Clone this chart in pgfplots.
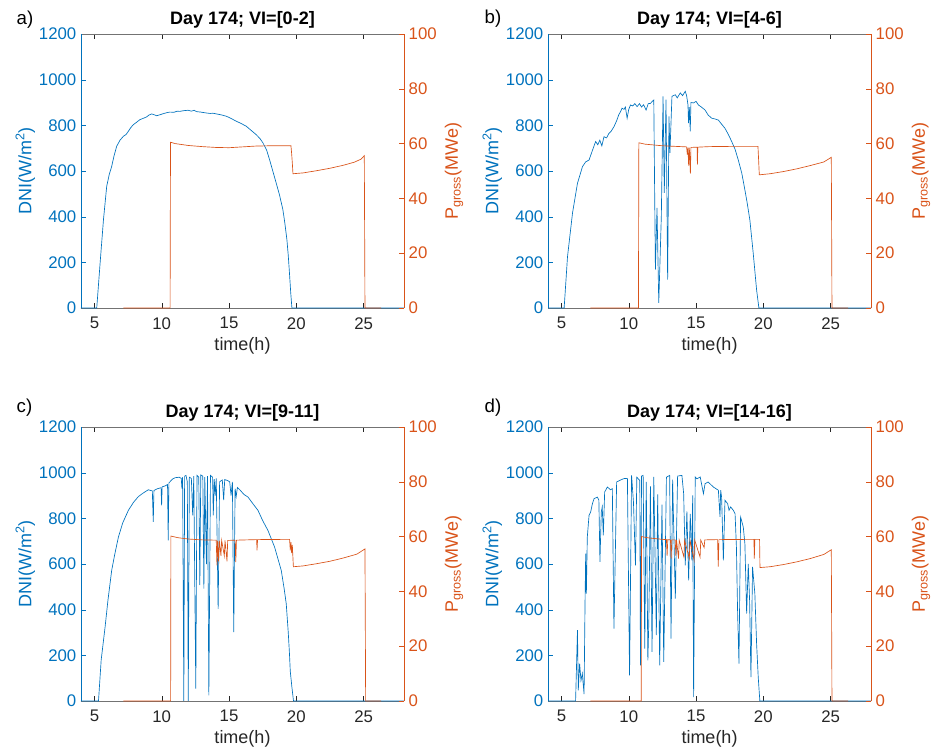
\documentclass[border=0pt]{standalone}
\usepackage{pgfplots}
\pgfplotsset{compat=1.18}
\usepackage{fontspec}
\setmainfont{Liberation Sans}

\definecolor{mblue}{rgb}{0,0.447,0.741}
\definecolor{morange}{rgb}{0.85,0.325,0.098}
\definecolor{mgray}{rgb}{0.15,0.15,0.15}

\pgfplotsset{
  base/.style={
    scale only axis, width=242.25pt, height=205.5pt,
    xmin=4, xmax=28, anchor=south west, clip=false,
    tick align=inside, major tick length=3.5pt,
    /pgf/number format/assume math mode=true,
    /pgf/number format/set thousands separator={},
    ticklabel style={font=\fontsize{12.6}{14}\selectfont},
    label style={font=\fontsize{13.5}{16}\selectfont},
    every axis plot/.append style={line width=0.5pt, mark=none},
  },
  dni/.style={base,
    ymin=0, ymax=1200, ytick={0,200,...,1200},
    xtick={5,10,15,20,25},
    axis y line*=left,
    y axis line style={mblue, line width=0.5pt},
    ytick style={mblue}, yticklabel style={mblue},
    x axis line style={black!55, line width=0.5pt},
    xtick style={mgray}, xticklabel style={mgray, yshift=-3.5pt},
    ylabel={DNI(W/m\textsuperscript{2})},
    ylabel style={mblue, at={(axis description cs:-0.172,0.5)}, anchor=center},
    xlabel={time(h)}, xlabel style={mgray, yshift=0.5pt},
    title style={font=\fontsize{13.5}{16}\selectfont\bfseries, black, yshift=-5.5pt},
  },
  pow/.style={base,
    ymin=0, ymax=100, ytick={0,20,...,100},
    axis y line*=right, axis x line=none,
    y axis line style={morange, line width=0.5pt},
    ytick style={morange}, yticklabel style={morange},
    ylabel={P\textsubscript{gross}(MWe)},
    ylabel style={morange, at={(axis description cs:1.155,0.5)}, anchor=center},
  },
}

\begin{document}
\begin{tikzpicture}
\path[use as bounding box] (0,0) rectangle (705pt,562.5pt);

% ---- a) ----
\begin{axis}[dni, at={(60.75pt,331.5pt)}, title={Day 174; VI=[0-2]}]
\addplot[mblue] coordinates {
(4,0)(5.17,0)(5.42,197)(5.67,387)(5.91,533)(6.1,585)(6.28,620)(6.45,665)(6.65,708)
(6.9,735)(7.15,752)(7.35,760)(7.52,774)(7.7,790)(7.89,803)(8.1,812)(8.38,825)(8.6,830)
(8.88,837)(9.05,845)(9.25,850)(9.45,846)(9.62,842)(9.85,846)(10.11,851)(10.35,855)
(10.6,858)(10.9,857)(11.15,862)(11.35,861)(11.6,864)(11.96,866)(12.2,862)(12.4,866)
(12.58,860)(12.9,858)(13.1,856)(13.32,854)(13.6,852)(13.8,853)(14.06,850)(14.4,846)
(14.8,840)(15.15,830)(15.54,818)(15.9,808)(16.28,796)(16.6,780)(17.02,759)(17.3,742)
(17.52,723)(17.8,690)(18.01,650)(18.25,600)(18.5,548)(18.75,495)(19.0,431)(19.15,370)
(19.3,299)(19.4,230)(19.49,153)(19.58,70)(19.67,0)(28,0)};
\end{axis}
\begin{axis}[pow, at={(60.75pt,331.5pt)}]
\addplot[morange] coordinates {
(7.15,0)(10.62,0)(10.65,60.5)(11.0,60.0)(12,59.3)(13,58.9)(14,58.6)(15,58.5)(16,58.8)
(17,59.1)(18,59.2)(19.6,59.2)(19.65,56.5)(19.7,53)(19.75,49)(20.5,49.3)(21.5,50.1)
(22.5,51)(23.5,52.1)(24.3,53.2)(24.8,54.3)(25.05,55.6)(25.1,0)(26.3,0)};
\end{axis}

% ---- b) ----
\begin{axis}[dni, at={(411pt,331.5pt)}, title={Day 174; VI=[4-6]}]
\addplot[mblue] coordinates {
(4,0)(5.2,0)(5.45,225)(5.82,415)(6.19,546)(6.56,619)(6.8,640)(7.05,648)(7.3,690)
(7.54,729)(7.7,715)(7.85,735)(8.0,710)(8.16,750)(8.35,745)(8.53,765)(8.7,775)(8.9,794)
(9.1,820)(9.25,845)(9.39,860)(9.5,875)(9.65,870)(9.75,880)(9.88,831)(10.0,870)
(10.13,889)(10.3,885)(10.45,895)(10.62,882)(10.8,895)(10.95,880)(11.1,890)(11.29,867)
(11.45,895)(11.61,896)(11.75,905)(11.86,911)(11.98,168)(12.1,438)(12.23,22)(12.42,400)
(12.55,927)(12.64,504)(12.77,912)(12.89,124)(12.99,839)(13.06,679)(13.21,927)
(13.46,934)(13.6,920)(13.83,942)(14.0,930)(14.2,949)(14.3,930)(14.4,890)(14.44,810)
(14.5,880)(14.57,774)(14.62,900)(14.81,898)(15.0,905)(15.18,889)(15.4,880)(15.67,867)
(15.9,845)(16.17,831)(16.4,828)(16.66,823)(16.9,805)(17.15,787)(17.4,760)(17.65,729)
(17.9,695)(18.14,648)(18.4,590)(18.63,517)(18.8,460)(19.0,385)(19.25,239)(19.5,79)
(19.67,0)(28,0)};
\end{axis}
\begin{axis}[pow, at={(411pt,331.5pt)}]
\addplot[morange] coordinates {
(7.15,0)(10.72,0)(10.75,60.3)(11.2,59.8)(12.5,59.2)(14.3,58.8)(14.35,56)(14.4,58.5)
(14.45,52)(14.5,58.5)(14.58,49)(14.62,58.6)(15.08,58.7)(15.1,52.3)(15.13,58.7)(16,58.9)
(18,59)(19.6,59)(19.65,54)(19.7,48.6)(20.5,49)(21.5,49.8)(22.5,50.8)(23.5,52)
(24.5,53.3)(25.05,55)(25.1,0)(26.3,0)};
\end{axis}

% ---- c) ----
\begin{axis}[dni, at={(60.75pt,36.75pt)}, title={Day 174; VI=[9-11]}]
\addplot[mblue] coordinates {
(4,0)(5.3,0)(5.5,180)(5.79,324)(6.0,440)(6.28,572)(6.5,640)(6.78,718)(7.1,780)
(7.52,835)(7.9,870)(8.26,895)(8.6,910)(9.0,925)(9.3,920)(9.37,784)(9.42,922)(9.7,930)
(9.95,934)(9.99,857)(10.03,938)(10.25,942)(10.43,948)(10.48,704)(10.53,955)(10.8,972)
(11.0,978)(11.3,980)(11.45,975)(11.5,930)(11.55,980)(11.64,0)(11.7,985)(11.8,988)
(11.9,960)(11.97,0)(12.05,980)(12.2,975)(12.3,813)(12.38,985)(12.53,54)(12.62,988)
(12.75,980)(12.83,507)(12.9,990)(13.05,985)(13.13,492)(13.2,980)(13.32,600)(13.4,985)
(13.5,25)(13.62,988)(13.78,980)(13.83,813)(13.9,972)(13.97,900)(14.05,975)(14.19,404)
(14.3,960)(14.5,968)(14.6,880)(14.68,970)(14.9,965)(15.05,960)(15.15,900)(15.25,960)
(15.35,302)(15.45,930)(15.53,895)(15.62,935)(15.8,925)(16.1,905)(16.41,893)(16.8,862)
(17.15,835)(17.5,790)(17.89,747)(18.38,675)(18.88,572)(19.1,490)(19.25,426)(19.4,300)
(19.49,207)(19.55,130)(19.67,61)(19.79,0)(28,0)};
\end{axis}
\begin{axis}[pow, at={(60.75pt,36.75pt)}]
\addplot[morange] coordinates {
(7.15,0)(10.66,0)(10.68,60.2)(11.2,59.6)(12,59.1)(13,58.8)(14.05,58.7)(14.1,49.5)
(14.15,58.5)(14.22,51)(14.28,58.5)(14.4,53)(14.45,58.6)(14.65,53)(14.7,58.6)(14.85,51)
(14.9,58.6)(15.45,58.7)(15.5,50.7)(15.55,58.7)(17.05,58.9)(17.08,55)(17.12,58.9)
(19.5,59)(19.55,55)(19.6,58)(19.65,54)(19.7,57)(19.78,49)(20.5,49.3)(21.5,50.1)
(22.5,51)(23.5,52.2)(24.5,53.6)(25.1,55.5)(25.15,0)(26.3,0)};
\end{axis}

% ---- d) ----
\begin{axis}[dni, at={(411pt,36.75pt)}, title={Day 174; VI=[14-16]}]
\addplot[mblue] coordinates {
(4,0)(6.05,0)(6.19,310)(6.25,47)(6.35,164)(6.45,90)(6.55,120)(6.68,30)(6.75,419)
(6.8,645)(6.85,470)(6.92,718)(7.05,813)(7.17,828)(7.3,864)(7.42,886)(7.67,893)
(7.78,880)(7.86,609)(7.96,828)(8.03,850)(8.11,725)(8.21,915)(8.41,937)(8.65,925)
(8.78,930)(8.9,317)(9.1,959)(9.4,968)(9.64,974)(9.9,975)(10.06,112)(10.21,988)
(10.35,871)(10.5,594)(10.6,980)(10.82,966)(10.87,156)(10.95,985)(11.07,988)(11.19,229)
(11.3,960)(11.42,178)(11.49,346)(11.61,940)(11.73,215)(11.86,981)(12.05,288)(12.15,905)
(12.3,156)(12.47,860)(12.6,171)(12.8,980)(13.04,988)(13.14,273)(13.26,970)(13.46,448)
(13.63,985)(13.95,988)(14.08,908)(14.2,594)(14.32,830)(14.45,528)(14.57,820)(14.69,616)
(14.75,900)(14.82,17)(14.94,981)(15.06,973)(15.31,981)(15.55,908)(15.67,952)(15.9,959)
(16.29,937)(16.66,923)(16.78,806)(16.83,923)(16.9,893)(17.03,616)(17.15,879)(17.35,864)
(17.45,835)(17.57,850)(17.77,835)(17.9,820)(18.0,674)(18.09,383)(18.19,164)(18.31,806)
(18.51,762)(18.63,689)(18.76,383)(18.88,600)(18.98,440)(19.08,105)(19.2,587)(19.37,470)
(19.5,251)(19.62,105)(19.74,0)(28,0)};
\end{axis}
\begin{axis}[pow, at={(411pt,36.75pt)}]
\addplot[morange] coordinates {
(7.15,0)(10.93,0)(10.95,60)(11.5,59.5)(12.5,59)(12.8,58.9)(12.85,53)(12.9,58.9)
(13.1,58.8)(13.15,52)(13.2,58.8)(13.45,58.8)(13.5,53)(13.55,58.7)(13.7,52)(13.75,58.7)
(14.1,52.5)(14.15,58.7)(14.5,52)(14.55,58.7)(14.85,51.5)(14.9,58.7)(15.3,52.5)(15.35,58.7)
(15.6,56)(15.65,58.8)(16.6,58.9)(16.65,49)(16.7,58.9)(19.3,59)(19.33,52)(19.37,59)
(19.72,59)(19.75,48.7)(20.5,49)(21.5,49.8)(22.5,50.8)(23.5,52)(24.5,53.5)(25.05,55.2)
(25.1,0)(26.3,0)};
\end{axis}

% panel letters
\node[anchor=base west, font=\fontsize{14}{16}\selectfont] at (9pt,543.75pt) {a)};
\node[anchor=base west, font=\fontsize{14}{16}\selectfont] at (360pt,545pt) {b)};
\node[anchor=base west, font=\fontsize{14}{16}\selectfont] at (9pt,252.75pt) {c)};
\node[anchor=base west, font=\fontsize{14}{16}\selectfont] at (360pt,252.75pt) {d)};
\end{tikzpicture}
\end{document}
